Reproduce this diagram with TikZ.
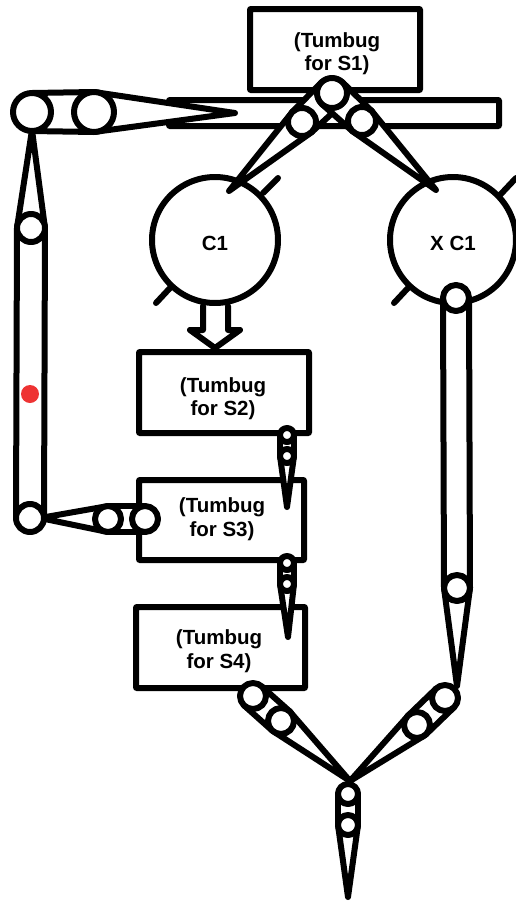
\documentclass[tikz,border=0pt]{standalone}
\usepackage{fontspec}
\setmainfont{Liberation Sans}
\usetikzlibrary{calc}
\definecolor{dotred}{HTML}{EE3333}
\tikzset{
  ink/.style={draw=black,line width=6pt,line join=round,line cap=round,fill=white},
  ringa/.style={ink,circle,inner sep=0pt,minimum size=#1},
  label/.style={font=\fontsize{20.5}{23.5}\selectfont\bfseries,align=center,inner sep=0pt},
  tick/.style={draw=black,line width=6pt,line cap=round},
}
\newcommand\tube[4]{\draw[ink] ($(#1.center)!#2pt!90:(#3.center)$) -- ($(#3.center)!#4pt!-90:(#1.center)$) -- ($(#3.center)!#4pt!90:(#1.center)$) -- ($(#1.center)!#2pt!-90:(#3.center)$) -- cycle;}
\newcommand\taper[3]{\draw[ink] ($(#1.center)!#2pt!90:(#3.center)$) -- (#3.center) -- ($(#1.center)!#2pt!-90:(#3.center)$) -- cycle;}
\newcommand\frameb[5]{\draw[ink,rounded corners=0.5pt] (#2,#3) rectangle (#4,#5); \coordinate (#1) at ({(#2+#4)/2},{(#3+#5)/2});}
\begin{document}
\begin{tikzpicture}[x=1pt,y=-1pt]
\useasboundingbox[fill=white] (0,0) rectangle (515,903);
% boxes and bar
\frameb{bar}{169}{100}{499}{126}
\frameb{bs1}{250}{9}{420}{90}
\frameb{bs2}{139}{352}{309}{433}
\frameb{bs3}{139}{480}{304}{560}
\frameb{bs4}{136}{607}{305}{688}
\node[label] (ts1) at (337,53.5) {(Tumbug\\for S1)};
\node[label] (ts2) at (223,398.5) {(Tumbug\\for S2)};
\node[label] (ts3) at (222,519) {(Tumbug\\for S3)};
\node[label] (ts4) at (219,651) {(Tumbug\\for S4)};
% big circles
\node[ringa=126pt] (c1) at (215,240) {};
\node[ringa=126pt] (xc1) at (453,240) {};
\node[label] (tc1) at (215,243) {C1};
\node[label] (txc1) at (453,243) {X C1};
\coordinate (c1a) at (263,193); \coordinate (c1b) at (278,178);
\coordinate (c1c) at (170,288); \coordinate (c1d) at (156,303);
\coordinate (xa) at (500,195); \coordinate (xb) at (516,178);
\coordinate (xc) at (408,288); \coordinate (xd) at (394,303);
\draw[tick] (c1a) -- (c1b); \draw[tick] (c1c) -- (c1d);
\draw[tick] (xa) -- (xb); \draw[tick] (xc) -- (xd);
% hollow arrow
\coordinate (aa) at (203,306); \coordinate (ab) at (203,330); \coordinate (ac) at (190,330);
\coordinate (ad) at (215,348); \coordinate (ae) at (240,330); \coordinate (af) at (228,330);
\coordinate (ag) at (228,306);
\draw[ink] (aa) -- (ab) -- (ac) -- (ad) -- (ae) -- (af) -- (ag);
% top junction
\coordinate (m) at (332,93);
\coordinate (ml) at (302,122);
\coordinate (mr) at (362,121);
\coordinate (tipl) at (229,191);
\coordinate (tipr) at (436,190);
\taper{ml}{14}{tipl}
\taper{mr}{14}{tipr}
\tube{m}{15}{ml}{14}
\tube{m}{15}{mr}{14}
\node[ringa=28pt] (rml) at (ml) {};
\node[ringa=28pt] (rmr) at (mr) {};
\node[ringa=30pt] (rm) at (m) {};
% top-left link and left tube
\coordinate (tipbar) at (235,113);
\coordinate (tipup) at (32,130);
\coordinate (ta) at (32,112);
\coordinate (tb) at (94,112);
\coordinate (la) at (31,228);
\coordinate (lb) at (30,518);
\tube{la}{14}{lb}{14}
\taper{la}{14}{tipup}
\taper{tb}{20}{tipbar}
\tube{ta}{19}{tb}{20}
\node[ringa=38pt] (rta) at (ta) {};
\node[ringa=40pt] (rtb) at (tb) {};
\node[ringa=28pt] (rla) at (la) {};
\node[circle,fill=dotred,inner sep=0pt,minimum size=18pt] (dot) at (30,394) {};
% S3 left link
\coordinate (tiplb) at (40,518);
\coordinate (sa) at (108,519);
\coordinate (sb) at (145,519);
\taper{sa}{13}{tiplb}
\tube{sa}{13}{sb}{13}
\node[ringa=26pt] (rsa) at (sa) {};
\node[ringa=26pt] (rsb) at (sb) {};
\node[ringa=28pt] (rlb) at (lb) {};
% small links
\coordinate (tip2) at (287,507);
\coordinate (pa) at (287,435);
\coordinate (pb) at (287,456);
\taper{pb}{7}{tip2}
\tube{pa}{7}{pb}{7}
\node[ringa=14pt] (rpa) at (pa) {};
\node[ringa=14pt] (rpb) at (pb) {};
\coordinate (tip3) at (288,637);
\coordinate (qa) at (287,563);
\coordinate (qb) at (287,584);
\taper{qb}{7}{tip3}
\tube{qa}{7}{qb}{7}
\node[ringa=14pt] (rqa) at (qa) {};
\node[ringa=14pt] (rqb) at (qb) {};
% right tube
\coordinate (tipx) at (457,686);
\coordinate (xp) at (456,298);
\coordinate (xq) at (457,588);
\taper{xq}{13}{tipx}
\tube{xp}{13}{xq}{13}
\node[ringa=26pt] (rxp) at (xp) {};
\node[ringa=26pt] (rxq) at (xq) {};
% bottom junction
\coordinate (tipj) at (350,781);
\coordinate (ba) at (253,696);
\coordinate (bb) at (281,721);
\coordinate (ca) at (445,698);
\coordinate (cb) at (417,725);
\taper{bb}{13}{tipj}
\tube{ba}{13}{bb}{13}
\node[ringa=26pt] (rba) at (ba) {};
\node[ringa=26pt] (rbb) at (bb) {};
\taper{cb}{13}{tipj}
\tube{ca}{13}{cb}{13}
\node[ringa=26pt] (rca) at (ca) {};
\node[ringa=26pt] (rcb) at (cb) {};
\coordinate (tipz) at (348,897);
\coordinate (da) at (348,794);
\coordinate (db) at (348,825);
\taper{db}{10}{tipz}
\tube{da}{10}{db}{10}
\node[ringa=20pt] (rda) at (da) {};
\node[ringa=20pt] (rdb) at (db) {};
\end{tikzpicture}
\end{document}
